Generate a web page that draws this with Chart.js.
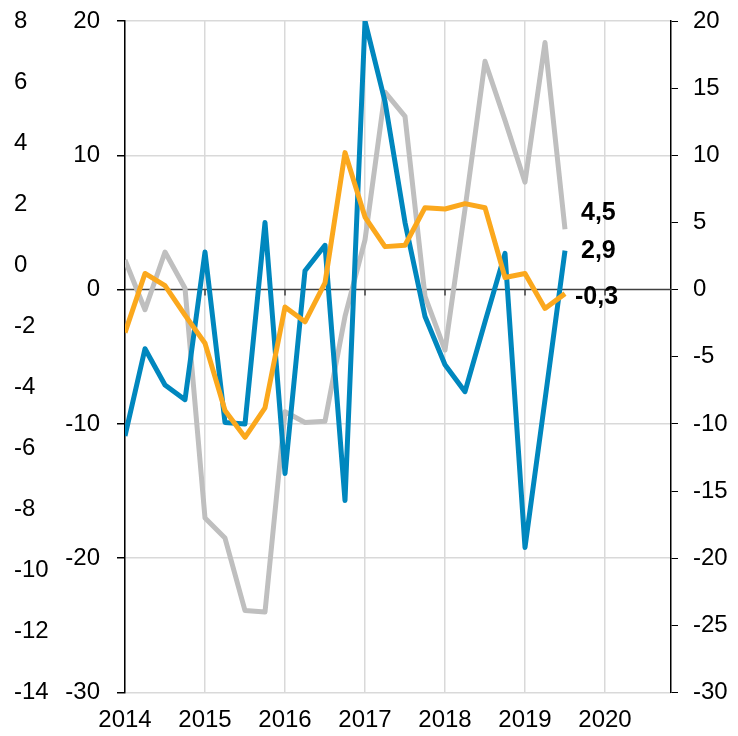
<!DOCTYPE html>
<html>
<head>
<meta charset="utf-8">
<script src="https://cdn.jsdelivr.net/npm/chart.js@4/dist/chart.umd.min.js"></script>
<style>
  html, body { margin: 0; padding: 0; background: #fff; }
  #wrap { width: 738px; height: 736px; }
</style>
</head>
<body>
<div id="wrap"><canvas id="chart" width="738" height="736"></canvas></div>
<script>
// Quarterly data 2014 K1 - 2019 K3
const quarters = ['2014K1','2014K2','2014K3','2014K4','2015K1','2015K2','2015K3','2015K4',
  '2016K1','2016K2','2016K3','2016K4','2017K1','2017K2','2017K3','2017K4',
  '2018K1','2018K2','2018K3','2018K4','2019K1','2019K2','2019K3'];
const years = ['2014','2015','2016','2017','2018','2019','2020'];

const blueSeries = [-10.9, -4.4, -7.1, -8.2, 2.8, -9.9, -10.0, 5.0, -13.7, 1.4, 3.3, -15.7,
  20.0, 14.0, 5.0, -2.0, -5.6, -7.6, -2.4, 2.7, -19.2, -8.2, 2.9];
const graySeries = [2.2, -1.5, 2.8, 0.1, -17.0, -18.5, -23.9, -24.0, -9.1, -9.9, -9.8, -2.0,
  3.7, 14.7, 12.9, -0.5, -4.5, 6.0, 17.0, 12.6, 8.0, 18.4, 4.5];
const orangeSeries = [-3.2, 1.2, 0.3, -1.9, -4.0, -9.0, -11.0, -8.8, -1.3, -2.4, 0.5, 10.2,
  5.4, 3.2, 3.3, 6.1, 6.0, 6.4, 6.1, 0.9, 1.2, -1.4, -0.3];

const FONT = 'Arial, "Liberation Sans", sans-serif';
const TICK_FONT = { family: FONT, size: 24 };

function toPoints(arr) {
  return arr.map((v, i) => ({ x: i, y: v }));
}

// fixed axis box sizes, no extra label padding at top/bottom
function fitY(width) {
  return (s) => { s.width = width; s.paddingTop = 0; s.paddingBottom = 0; };
}

// zero line with year ticks + end labels
const extras = {
  id: 'extras',
  beforeDatasetsDraw(chart) {
    const ctx = chart.ctx, xs = chart.scales.x, ys = chart.scales.y;
    const y0 = ys.getPixelForValue(0);
    ctx.save();
    ctx.strokeStyle = '#404040';
    ctx.lineWidth = 1.5;
    ctx.beginPath();
    ctx.moveTo(chart.chartArea.left, y0);
    ctx.lineTo(chart.chartArea.right, y0);
    for (let i = 1; i < years.length; i++) {
      const px = xs.getPixelForValue(i * 4);
      ctx.moveTo(px, y0);
      ctx.lineTo(px, y0 + 6);
    }
    ctx.stroke();
    ctx.restore();
  },
  afterDatasetsDraw(chart) {
    const ctx = chart.ctx;
    const offs = { gray: [16, -16], blue: [16, 0], orange: [10, 3] };
    ctx.save();
    ctx.font = 'bold 25px ' + FONT;
    ctx.fillStyle = '#000';
    ctx.textBaseline = 'middle';
    ctx.textAlign = 'left';
    chart.data.datasets.forEach((ds, di) => {
      const meta = chart.getDatasetMeta(di);
      const pt = meta.data[meta.data.length - 1];
      const v = ds.data[ds.data.length - 1].y;
      const o = offs[ds.key];
      ctx.fillText(v.toFixed(1).replace('.', ','), pt.x + o[0], pt.y + o[1]);
    });
    ctx.restore();
  }
};

const ctx = document.getElementById('chart').getContext('2d');
new Chart(ctx, {
  type: 'line',
  data: {
    datasets: [
      { key: 'gray', label: 'gray', data: toPoints(graySeries), borderColor: '#bfbfbf', yAxisID: 'y', order: 2 },
      { key: 'blue', label: 'blue', data: toPoints(blueSeries), borderColor: '#0087be', yAxisID: 'y', order: 1 },
      { key: 'orange', label: 'orange', data: toPoints(orangeSeries), borderColor: '#fba81d', yAxisID: 'y', order: 0 }
    ]
  },
  options: {
    responsive: false,
    animation: false,
    layout: { padding: { left: 14, top: 21, right: 0, bottom: 0 } },
    elements: {
      line: { borderWidth: 5, tension: 0, borderJoinStyle: 'round', fill: false },
      point: { radius: 0, hoverRadius: 0 }
    },
    plugins: { legend: { display: false }, tooltip: { enabled: false } },
    scales: {
      x: {
        type: 'linear',
        min: 0,
        max: 27.3,
        grid: { color: '#d9d9d9', lineWidth: 1.5, drawTicks: false },
        border: { display: false },
        ticks: {
          stepSize: 4,
          includeBounds: false,
          autoSkip: false,
          padding: 13,
          color: '#000',
          font: TICK_FONT,
          maxRotation: 0,
          callback: (v) => years[v / 4]
        },
        afterFit: (s) => { s.height = 43.5; }
      },
      yOuter: {
        position: 'left',
        weight: 1,
        min: -14,
        max: 8,
        grid: { display: false, drawOnChartArea: false },
        border: { display: false },
        ticks: {
          stepSize: 2,
          crossAlign: 'far',
          color: '#000',
          font: TICK_FONT
        },
        afterFit: fitY(41)
      },
      y: {
        position: 'left',
        weight: 0,
        min: -30,
        max: 20,
        grid: {
          color: (c) => c.tick && c.tick.value === 0 ? 'rgba(0,0,0,0)' : '#d9d9d9',
          lineWidth: 1.5,
          tickLength: 8,
          tickColor: '#000'
        },
        border: { display: true, color: '#000', width: 1.5 },
        ticks: {
          stepSize: 10,
          padding: 17,
          color: '#000',
          font: TICK_FONT
        },
        afterFit: fitY(70)
      },
      yRight: {
        position: 'right',
        min: -30,
        max: 20,
        grid: { drawOnChartArea: false, tickLength: 7, tickColor: '#000' },
        border: { display: true, color: '#000', width: 1.5 },
        ticks: {
          stepSize: 5,
          padding: 15,
          color: '#000',
          font: TICK_FONT
        },
        afterFit: fitY(67)
      }
    }
  },
  plugins: [extras]
});
</script>
</body>
</html>
